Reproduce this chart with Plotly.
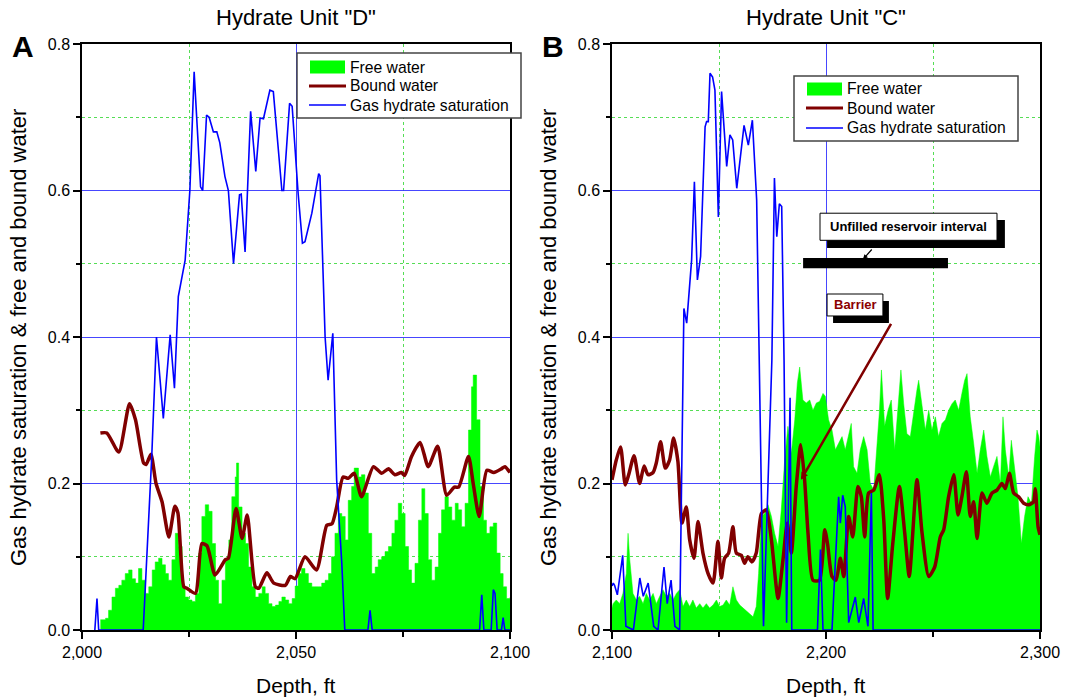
import plotly.graph_objects as go

# ---------------- Hydrate Unit "D" : (depth ft, value) ----------------
free_water_d = [
    (2004.3, 0.014), (2005.5, 0.016), (2006.2, 0.027), (2007.0, 0.045), (2007.8, 0.057),
    (2008.6, 0.061), (2009.3, 0.068), (2010.1, 0.077), (2010.9, 0.082), (2011.7, 0.070),
    (2012.5, 0.064), (2013.2, 0.084), (2014.0, 0.068), (2014.8, 0.050), (2015.6, 0.059),
    (2016.4, 0.082), (2017.1, 0.093), (2017.9, 0.098), (2018.7, 0.089), (2019.5, 0.077),
    (2020.2, 0.068), (2021.0, 0.096), (2021.8, 0.132), (2022.6, 0.114), (2023.4, 0.059),
    (2024.1, 0.045), (2024.9, 0.041), (2025.7, 0.039), (2026.5, 0.050), (2027.3, 0.105),
    (2028.0, 0.155), (2028.8, 0.171), (2029.6, 0.162), (2030.4, 0.118), (2031.2, 0.068),
    (2031.9, 0.036), (2032.7, 0.068), (2033.5, 0.096), (2034.3, 0.123), (2035.0, 0.182),
    (2035.8, 0.209), (2036.1, 0.228), (2036.6, 0.168), (2037.4, 0.132), (2038.2, 0.118),
    (2038.9, 0.086), (2039.7, 0.059), (2040.5, 0.045), (2041.3, 0.050), (2042.1, 0.059),
    (2042.8, 0.050), (2043.6, 0.036), (2044.4, 0.032), (2045.2, 0.034), (2046.0, 0.039),
    (2046.7, 0.045), (2047.5, 0.041), (2048.3, 0.036), (2049.1, 0.043), (2049.8, 0.060),
    (2050.5, 0.077), (2051.3, 0.084), (2052.1, 0.077), (2052.9, 0.064), (2053.7, 0.059),
    (2054.4, 0.059), (2055.2, 0.059), (2056.0, 0.064), (2056.8, 0.068), (2057.6, 0.077),
    (2058.3, 0.100), (2059.1, 0.132), (2059.9, 0.159), (2060.7, 0.155), (2061.5, 0.123),
    (2062.2, 0.177), (2063.0, 0.196), (2063.6, 0.221), (2064.6, 0.209), (2065.3, 0.212),
    (2066.1, 0.187), (2066.9, 0.132), (2067.7, 0.077), (2068.5, 0.086), (2069.2, 0.096),
    (2070.0, 0.100), (2070.8, 0.107), (2071.6, 0.114), (2072.4, 0.132), (2073.1, 0.150),
    (2073.9, 0.173), (2074.3, 0.173), (2074.7, 0.159), (2075.5, 0.114), (2076.3, 0.082),
    (2077.0, 0.064), (2077.8, 0.091), (2078.6, 0.150), (2079.4, 0.193), (2080.1, 0.159),
    (2080.9, 0.096), (2081.7, 0.068), (2082.5, 0.086), (2083.3, 0.132), (2084.0, 0.164),
    (2084.8, 0.182), (2085.6, 0.168), (2086.4, 0.150), (2087.2, 0.173), (2087.9, 0.164),
    (2088.7, 0.141), (2089.5, 0.173), (2090.3, 0.273), (2091.0, 0.332), (2091.4, 0.348),
    (2092.2, 0.287), (2093.0, 0.196), (2093.8, 0.150), (2094.5, 0.132), (2095.3, 0.141),
    (2096.1, 0.146), (2096.9, 0.105), (2097.7, 0.077), (2098.4, 0.059), (2099.2, 0.043),
    (2100.0, 0.045),
]

bound_water_d = [
    (2004.3, 0.269), (2005.8, 0.269), (2008.6, 0.243), (2011.1, 0.309), (2012.5, 0.287),
    (2014.4, 0.228), (2015.0, 0.226), (2016.1, 0.240), (2017.3, 0.200), (2018.7, 0.175),
    (2020.3, 0.127), (2021.7, 0.169), (2022.4, 0.160), (2023.8, 0.059), (2024.5, 0.057),
    (2026.5, 0.050), (2028.0, 0.118), (2029.2, 0.115), (2031.1, 0.075), (2033.5, 0.096),
    (2034.2, 0.098), (2036.0, 0.166), (2037.4, 0.125), (2038.6, 0.157), (2040.5, 0.059),
    (2041.3, 0.057), (2043.2, 0.078), (2044.8, 0.064), (2047.5, 0.061), (2048.7, 0.073),
    (2049.8, 0.070), (2052.1, 0.100), (2054.8, 0.082), (2057.2, 0.143), (2058.4, 0.145),
    (2059.5, 0.168), (2061.0, 0.209), (2062.2, 0.207), (2063.6, 0.214), (2065.3, 0.182),
    (2068.1, 0.223), (2070.0, 0.214), (2071.6, 0.220), (2073.1, 0.212), (2074.6, 0.215),
    (2075.4, 0.211), (2077.0, 0.237), (2079.0, 0.256), (2080.9, 0.223), (2083.1, 0.251),
    (2085.2, 0.184), (2087.0, 0.195), (2088.0, 0.195), (2090.3, 0.237), (2091.4, 0.200),
    (2092.8, 0.155), (2094.6, 0.218), (2096.2, 0.215), (2098.0, 0.220), (2098.8, 0.223),
    (2100.0, 0.215),
]

hydrate_sat_d = [
    (2003.0, 0.0), (2003.5, 0.043), (2003.9, 0.0), (2014.3, 0.0), (2016.3, 0.237),
    (2017.4, 0.400), (2019.0, 0.289), (2020.6, 0.403), (2021.6, 0.330), (2022.1, 0.400),
    (2022.5, 0.455), (2024.1, 0.505), (2025.2, 0.600), (2026.2, 0.762), (2027.7, 0.605),
    (2028.2, 0.600), (2029.1, 0.703), (2029.7, 0.700), (2030.7, 0.680), (2031.5, 0.680),
    (2032.2, 0.665), (2033.4, 0.619), (2034.2, 0.600), (2035.4, 0.500), (2036.8, 0.594),
    (2037.2, 0.595), (2038.1, 0.516), (2039.4, 0.708), (2040.6, 0.626), (2041.6, 0.699),
    (2042.4, 0.698), (2043.9, 0.737), (2044.7, 0.735), (2046.7, 0.600), (2047.1, 0.600),
    (2048.5, 0.719), (2049.1, 0.715), (2050.5, 0.596), (2051.5, 0.528), (2052.1, 0.530),
    (2053.7, 0.569), (2055.3, 0.623), (2055.6, 0.620), (2056.8, 0.400), (2057.5, 0.341),
    (2058.6, 0.405), (2059.5, 0.205), (2060.7, 0.091), (2061.4, 0.0), (2066.8, 0.0),
    (2067.3, 0.027), (2067.8, 0.0), (2092.9, 0.0), (2093.4, 0.048), (2093.9, 0.0),
    (2095.6, 0.0), (2096.1, 0.055), (2096.5, 0.050), (2097.0, 0.0), (2098.0, 0.0),
    (2098.4, 0.017), (2098.8, 0.0), (2100.0, 0.0),
]

# ---------------- Hydrate Unit "C" : (depth ft, value) ----------------
free_water_c = [
    (2100.0, 0.030), (2100.5, 0.036), (2102.0, 0.041), (2103.6, 0.036), (2105.1, 0.050),
    (2106.7, 0.077), (2107.5, 0.132), (2108.3, 0.096), (2109.8, 0.050), (2111.4, 0.041),
    (2112.9, 0.046), (2114.5, 0.036), (2116.0, 0.050), (2117.6, 0.041), (2119.2, 0.050),
    (2120.7, 0.036), (2122.3, 0.046), (2123.8, 0.055), (2125.4, 0.046), (2127.0, 0.050),
    (2128.5, 0.041), (2130.1, 0.050), (2131.6, 0.055), (2133.2, 0.032), (2134.7, 0.041),
    (2136.3, 0.032), (2137.8, 0.041), (2139.4, 0.030), (2141.0, 0.036), (2142.5, 0.030),
    (2144.1, 0.036), (2145.6, 0.030), (2147.2, 0.034), (2148.8, 0.041), (2150.3, 0.032),
    (2151.9, 0.034), (2153.4, 0.041), (2155.0, 0.034), (2156.5, 0.059), (2158.1, 0.041),
    (2159.7, 0.034), (2161.2, 0.030), (2162.8, 0.027), (2164.3, 0.023), (2165.9, 0.018),
    (2167.4, 0.032), (2168.5, 0.077), (2169.8, 0.155), (2171.3, 0.159), (2172.9, 0.171),
    (2174.5, 0.155), (2176.0, 0.132), (2177.6, 0.114), (2179.1, 0.164), (2180.7, 0.232),
    (2182.2, 0.278), (2183.8, 0.241), (2185.4, 0.287), (2186.6, 0.337), (2187.7, 0.359),
    (2189.2, 0.314), (2190.8, 0.310), (2192.4, 0.314), (2193.9, 0.300), (2195.5, 0.310),
    (2197.0, 0.312), (2198.6, 0.323), (2199.7, 0.319), (2201.2, 0.287), (2202.8, 0.273),
    (2204.4, 0.246), (2205.9, 0.255), (2207.5, 0.264), (2209.0, 0.246), (2210.6, 0.268),
    (2211.8, 0.282), (2212.9, 0.223), (2214.5, 0.214), (2216.0, 0.246), (2217.6, 0.264),
    (2219.2, 0.246), (2220.7, 0.200), (2222.3, 0.191), (2223.8, 0.246), (2224.9, 0.296),
    (2225.9, 0.355), (2227.4, 0.278), (2229.0, 0.300), (2230.5, 0.314), (2232.1, 0.246),
    (2233.6, 0.305), (2235.0, 0.355), (2236.3, 0.309), (2237.8, 0.268), (2239.4, 0.264),
    (2241.0, 0.300), (2242.5, 0.328), (2243.3, 0.341), (2244.9, 0.309), (2246.4, 0.273),
    (2248.0, 0.300), (2249.5, 0.273), (2251.1, 0.291), (2252.6, 0.264), (2254.2, 0.282),
    (2255.8, 0.287), (2257.3, 0.300), (2258.9, 0.309), (2260.4, 0.314), (2262.0, 0.300),
    (2263.5, 0.323), (2264.8, 0.341), (2265.9, 0.350), (2267.4, 0.291), (2269.0, 0.255),
    (2270.6, 0.214), (2272.1, 0.246), (2273.7, 0.273), (2275.2, 0.237), (2276.8, 0.209),
    (2278.3, 0.223), (2279.9, 0.237), (2281.5, 0.200), (2282.7, 0.291), (2283.8, 0.246),
    (2285.4, 0.209), (2286.6, 0.259), (2288.2, 0.218), (2289.7, 0.182), (2291.3, 0.118),
    (2292.8, 0.155), (2294.4, 0.182), (2296.0, 0.173), (2297.5, 0.237), (2298.6, 0.273),
    (2299.4, 0.264), (2300.0, 0.250),
]

bound_water_c = [
    (2100.0, 0.205), (2100.5, 0.212), (2102.0, 0.232), (2104.0, 0.250), (2106.2, 0.198),
    (2107.8, 0.212), (2110.3, 0.238), (2112.9, 0.200), (2115.0, 0.224), (2116.8, 0.212),
    (2119.2, 0.215), (2120.7, 0.228), (2122.7, 0.257), (2124.9, 0.221), (2126.9, 0.232),
    (2128.8, 0.262), (2130.8, 0.230), (2132.7, 0.146), (2134.7, 0.168), (2136.3, 0.123),
    (2138.3, 0.098), (2140.2, 0.148), (2142.5, 0.105), (2144.9, 0.077), (2147.2, 0.064),
    (2149.5, 0.121), (2151.1, 0.071), (2152.6, 0.098), (2154.5, 0.105), (2156.5, 0.141),
    (2158.1, 0.105), (2160.4, 0.102), (2162.0, 0.091), (2163.5, 0.100), (2165.4, 0.093),
    (2167.4, 0.105), (2169.8, 0.159), (2172.1, 0.164), (2174.5, 0.123), (2177.6, 0.043),
    (2179.9, 0.096), (2181.9, 0.146), (2183.8, 0.105), (2186.1, 0.196), (2188.2, 0.253),
    (2190.0, 0.205), (2191.6, 0.132), (2193.9, 0.068), (2197.0, 0.068), (2199.4, 0.137),
    (2200.7, 0.118), (2202.8, 0.073), (2204.7, 0.068), (2206.7, 0.098), (2208.3, 0.073),
    (2210.6, 0.155), (2212.5, 0.127), (2214.9, 0.196), (2216.5, 0.182), (2218.1, 0.127),
    (2219.9, 0.187), (2222.3, 0.191), (2224.9, 0.212), (2227.0, 0.150), (2228.8, 0.043),
    (2231.2, 0.118), (2234.3, 0.196), (2236.8, 0.132), (2238.9, 0.073), (2242.5, 0.205),
    (2244.9, 0.132), (2248.0, 0.073), (2250.8, 0.086), (2253.4, 0.127), (2255.0, 0.137),
    (2257.3, 0.182), (2259.7, 0.212), (2261.7, 0.157), (2263.5, 0.182), (2265.6, 0.216),
    (2267.4, 0.155), (2269.0, 0.175), (2270.6, 0.125), (2272.9, 0.187), (2275.2, 0.173),
    (2277.6, 0.187), (2279.9, 0.191), (2282.2, 0.200), (2283.8, 0.193), (2285.7, 0.214),
    (2287.7, 0.187), (2290.0, 0.182), (2292.4, 0.173), (2294.7, 0.171), (2297.0, 0.175),
    (2297.8, 0.193), (2299.1, 0.141), (2300.0, 0.130),
]

hydrate_sat_c = [
    (2100.0, 0.060), (2100.6, 0.064), (2101.2, 0.061), (2102.5, 0.048), (2105.0, 0.102),
    (2106.5, 0.005), (2110.0, 0.0), (2113.0, 0.071), (2114.6, 0.046), (2116.9, 0.064),
    (2119.5, 0.005), (2121.5, 0.0), (2124.3, 0.086), (2125.8, 0.036), (2127.6, 0.068),
    (2129.4, 0.005), (2131.6, 0.0), (2133.0, 0.368), (2133.6, 0.439), (2134.9, 0.419),
    (2136.1, 0.469), (2137.2, 0.505), (2138.5, 0.612), (2139.9, 0.478), (2141.4, 0.510),
    (2143.5, 0.687), (2144.2, 0.694), (2145.0, 0.694), (2145.8, 0.760), (2147.0, 0.755),
    (2148.1, 0.737), (2149.7, 0.564), (2151.2, 0.735), (2152.3, 0.687), (2153.6, 0.633),
    (2155.1, 0.676), (2156.4, 0.669), (2158.3, 0.603), (2159.8, 0.642), (2161.7, 0.689),
    (2163.7, 0.662), (2165.6, 0.696), (2167.6, 0.587), (2168.8, 0.368), (2170.8, 0.005),
    (2174.7, 0.368), (2175.9, 0.617), (2177.0, 0.537), (2178.2, 0.582), (2179.3, 0.578),
    (2180.4, 0.368), (2181.6, 0.010), (2183.2, 0.317), (2184.0, 0.0), (2196.0, 0.0),
    (2197.4, 0.110), (2198.6, 0.0), (2202.8, 0.0), (2205.9, 0.182), (2206.7, 0.146),
    (2207.8, 0.184), (2209.0, 0.168), (2210.6, 0.010), (2213.7, 0.045), (2215.3, 0.010),
    (2217.6, 0.043), (2219.6, 0.005), (2221.2, 0.187), (2222.0, 0.0), (2300.0, 0.0),
]

# depth span of the unfilled reservoir interval and its plotted level
unfilled_interval = (2189.3, 2257.0)
unfilled_level = (0.494, 0.508)

series_names = ["Free water", "Bound water", "Gas hydrate saturation"]


def cols(pairs):
    return [p[0] for p in pairs], [p[1] for p in pairs]


W, H = 1067, 698
FONT = "Liberation Sans, Arial, sans-serif"
GREEN = "#00ff00"
MAROON = "#800000"
BLUE = "#0000ff"
GRID_MAJOR = "rgba(50,50,255,0.9)"
GRID_MINOR = "#55dd55"


def px(x):
    return x / W


def py(y):
    return 1 - y / H


fig = go.Figure()

panels = [
    ("x", "y", free_water_d, bound_water_d, hydrate_sat_d, "hv"),
    ("x2", "y2", free_water_c, bound_water_c, hydrate_sat_c, "linear"),
]
for xa, ya, fw, bw, gh, fw_shape in panels:
    x, y = cols(fw)
    fig.add_trace(go.Scatter(
        x=x, y=y, xaxis=xa, yaxis=ya, name=series_names[0], showlegend=False,
        mode="lines", line=dict(color=GREEN, width=0.5, shape=fw_shape),
        fill="tozeroy", fillcolor=GREEN))
    x, y = cols(bw)
    fig.add_trace(go.Scatter(
        x=x, y=y, xaxis=xa, yaxis=ya, name=series_names[1], showlegend=False,
        mode="lines", line=dict(color=MAROON, width=3.5, shape="spline", smoothing=0.6)))
    x, y = cols(gh)
    fig.add_trace(go.Scatter(
        x=x, y=y, xaxis=xa, yaxis=ya, name=series_names[2], showlegend=False,
        mode="lines", line=dict(color=BLUE, width=1.6)))

axis_common = dict(
    showline=True, linecolor="black", linewidth=1.5, mirror=True,
    ticks="outside", ticklen=7, tickwidth=1.5, tickcolor="black",
    showgrid=True, gridcolor=GRID_MAJOR, gridwidth=1, zeroline=False,
    tickfont=dict(family=FONT, size=16, color="black"), automargin=False,
)
minor_grid = dict(showgrid=True, gridcolor=GRID_MINOR, griddash="dot", gridwidth=1,
                  ticks="outside", tickcolor="black")
y_dom = [1 - 630 / H, 1 - 44 / H]

fig.update_layout(
    template="none",
    width=W, height=H,
    margin=dict(l=0, r=0, t=0, b=0),
    paper_bgcolor="white", plot_bgcolor="white",
    font=dict(family=FONT, color="black"),
    showlegend=False,
    xaxis=dict(domain=[82 / W, 510 / W], range=[2000, 2100], anchor="y",
               tick0=2000, dtick=50, tickformat=",.0f",
               minor=dict(tick0=2000, dtick=25, ticklen=5, **minor_grid),
               **axis_common),
    yaxis=dict(domain=y_dom, range=[0, 0.8], anchor="x", dtick=0.2, tickformat=".1f",
               minor=dict(dtick=0.1, ticklen=4, **minor_grid),
               **axis_common),
    xaxis2=dict(domain=[612 / W, 1040 / W], range=[2100, 2300], anchor="y2",
                tick0=2100, dtick=100, tickformat=",.0f",
                minor=dict(tick0=2100, dtick=50, ticklen=5, **minor_grid),
                **axis_common),
    yaxis2=dict(domain=y_dom, range=[0, 0.8], anchor="x2", dtick=0.2, tickformat=".1f",
                minor=dict(dtick=0.1, ticklen=4, **minor_grid),
                **axis_common),
)

ann = []
shapes = []
title_font = dict(family=FONT, size=22, color="black")
# panel titles, panel letters, axis titles
for cx, title, letter, lx in [(296, 'Hydrate Unit "D"', "A", 23), (826, 'Hydrate Unit "C"', "B", 553)]:
    ann.append(dict(x=px(cx), y=py(18), xref="paper", yref="paper", text=title,
                    showarrow=False, font=title_font, xanchor="center", yanchor="middle"))
    ann.append(dict(x=px(lx), y=py(47), xref="paper", yref="paper", text=f"<b>{letter}</b>",
                    showarrow=False, font=dict(family=FONT, size=30, color="black"),
                    xanchor="center", yanchor="middle"))
    ann.append(dict(x=px(cx), y=py(685), xref="paper", yref="paper", text="Depth, ft",
                    showarrow=False, font=dict(family=FONT, size=21, color="black"),
                    xanchor="center", yanchor="middle"))
for tx in (19, 549):
    ann.append(dict(x=px(tx), y=py(338), xref="paper", yref="paper",
                    text="Gas hydrate saturation & free and bound water", textangle=-90,
                    showarrow=False, font=title_font, xanchor="center", yanchor="middle"))

# legend boxes: (left, top, right, bottom) in pixels, then row centres
legend_font = dict(family=FONT, size=15.7, color="black")
for (l, t, r, b), rows, sw_x0 in [
    ((297, 53, 521, 118), (67, 86, 105), 310),
    ((794, 76, 1018, 141), (89, 108, 128), 807),
]:
    shapes.append(dict(type="rect", xref="paper", yref="paper",
                       x0=px(l), x1=px(r), y0=py(b), y1=py(t),
                       fillcolor="white", line=dict(color="#444", width=1.5)))
    sw_x1 = sw_x0 + 35
    shapes.append(dict(type="rect", xref="paper", yref="paper",
                       x0=px(sw_x0), x1=px(sw_x1), y0=py(rows[0] + 6.5), y1=py(rows[0] - 6.5),
                       fillcolor=GREEN, line=dict(width=0)))
    shapes.append(dict(type="line", xref="paper", yref="paper",
                       x0=px(sw_x0 - 1), x1=px(sw_x1 + 1), y0=py(rows[1]), y1=py(rows[1]),
                       line=dict(color=MAROON, width=3)))
    shapes.append(dict(type="line", xref="paper", yref="paper",
                       x0=px(sw_x0 - 1), x1=px(sw_x1 + 1), y0=py(rows[2]), y1=py(rows[2]),
                       line=dict(color=BLUE, width=1.6)))
    for name, ry in zip(series_names, rows):
        ann.append(dict(x=px(sw_x1 + 3), y=py(ry), xref="paper", yref="paper", text=name,
                        showarrow=False, font=legend_font, xanchor="left", yanchor="middle"))

# callouts in the Unit "C" panel
shapes += [
    # interval bar
    dict(type="rect", xref="x2", yref="y2", x0=unfilled_interval[0], x1=unfilled_interval[1],
         y0=unfilled_level[0], y1=unfilled_level[1], fillcolor="black", line=dict(width=0)),
    # label boxes with drop shadows
    dict(type="rect", xref="x2", yref="y2", x0=2200.5, x1=2283.6, y0=0.5215, y1=0.5597,
         fillcolor="black", line=dict(width=0)),
    dict(type="rect", xref="x2", yref="y2", x0=2197.2, x1=2279.9, y0=0.532, y1=0.569,
         fillcolor="white", line=dict(color="black", width=1)),
    dict(type="rect", xref="x2", yref="y2", x0=2203.3, x1=2229.4, y0=0.419, y1=0.449,
         fillcolor="black", line=dict(width=0)),
    dict(type="rect", xref="x2", yref="y2", x0=2200.5, x1=2226.6, y0=0.4287, y1=0.4587,
         fillcolor="white", line=dict(color="black", width=1)),
]
ann.append(dict(x=(2197.2 + 2279.9) / 2, y=(0.532 + 0.569) / 2, xref="x2", yref="y2",
                text="<b>Unfilled reservoir interval</b>", showarrow=False,
                font=dict(family=FONT, size=13, color="black")))
ann.append(dict(x=2217.3, y=0.506, xref="x2", yref="y2", ax=2222.0, ay=0.5215,
                axref="x2", ayref="y2", text="", showarrow=True,
                arrowhead=2, arrowsize=0.8, arrowwidth=1.2, arrowcolor="black"))
ann.append(dict(x=(2200.5 + 2226.6) / 2, y=(0.4287 + 0.4587) / 2, xref="x2", yref="y2",
                text="<b>Barrier</b>", showarrow=False,
                font=dict(family=FONT, size=13, color="#8b0000")))
ann.append(dict(x=2188.3, y=0.205, xref="x2", yref="y2", ax=2230.8, ay=0.420,
                axref="x2", ayref="y2", text="", showarrow=True,
                arrowhead=2, arrowsize=0.6, arrowwidth=2.5, arrowcolor=MAROON))

fig.update_layout(annotations=ann, shapes=shapes)
fig.write_html("out.html")
